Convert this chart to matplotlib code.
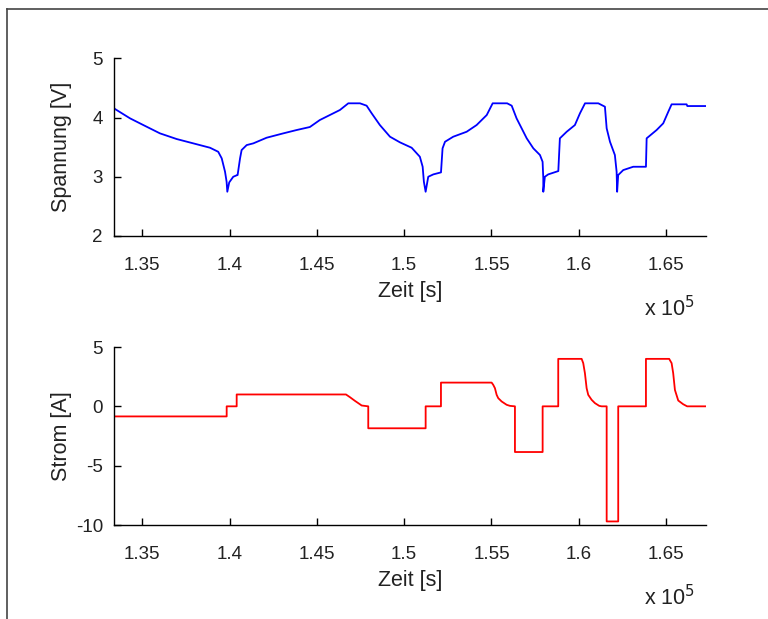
import numpy as np
import matplotlib
matplotlib.use("Agg")
import matplotlib.pyplot as plt
from matplotlib.lines import Line2D
from matplotlib.ticker import FuncFormatter, FixedLocator

plt.rcParams['font.family'] = ['Liberation Sans', 'DejaVu Sans']

# time axis unit: 1e5 seconds
T_UNIT = 1e5

# cell voltage [V] over time [1e5 s]
volt_time = [1.33380, 1.33436, 1.3430, 1.3506, 1.3601, 1.3697, 1.3792, 1.3888, 1.3935,
             1.3955, 1.3974, 1.3983, 1.3987, 1.3998, 1.4021, 1.4041, 1.4046, 1.4060,
             1.4069, 1.4098, 1.4136, 1.4212, 1.4308, 1.4384, 1.4460, 1.4517, 1.4632,
             1.4680, 1.4747, 1.4785, 1.4814, 1.4861, 1.4919, 1.4976, 1.5043, 1.5090,
             1.5106, 1.5113, 1.5123, 1.5138, 1.5167, 1.5211, 1.5220, 1.5234, 1.5281,
             1.5358, 1.5415, 1.5473, 1.5507, 1.5590, 1.5616, 1.5644, 1.5673, 1.5702,
             1.5740, 1.5778, 1.5793, 1.5797, 1.5797, 1.5806, 1.5825, 1.5883, 1.5892,
             1.5931, 1.5978, 1.6007, 1.6036, 1.6112, 1.6150, 1.6160, 1.6179, 1.6207,
             1.6217, 1.6220, 1.6226, 1.6255, 1.6312, 1.6385, 1.6389, 1.6446, 1.6484,
             1.6513, 1.6532, 1.6618, 1.6622, 1.6729]
volt_value = [4.16, 4.144, 3.986, 3.873, 3.733, 3.637, 3.564, 3.490, 3.422,
              3.311, 3.085, 2.916, 2.747, 2.905, 3.000, 3.025, 3.029, 3.311,
              3.451, 3.535, 3.564, 3.659, 3.733, 3.789, 3.840, 3.958, 4.127,
              4.240, 4.240, 4.200, 4.071, 3.873, 3.676, 3.581, 3.490, 3.338,
              3.169, 2.916, 2.747, 3.000, 3.040, 3.074, 3.480, 3.591, 3.676,
              3.760, 3.873, 4.042, 4.240, 4.240, 4.200, 3.986, 3.818, 3.649,
              3.480, 3.367, 3.253, 2.973, 2.747, 3.000, 3.040, 3.096, 3.649,
              3.760, 3.873, 4.071, 4.240, 4.240, 4.183, 3.818, 3.591, 3.367,
              3.085, 2.747, 3.029, 3.113, 3.169, 3.169, 3.649, 3.789, 3.902,
              4.098, 4.223, 4.223, 4.194, 4.194]

# cell current [A] over time [1e5 s]
curr_time = [1.33380, 1.39834, 1.39834, 1.40407, 1.40407, 1.46667, 1.46896, 1.47182,
             1.47371, 1.47566, 1.47944, 1.47944, 1.51231, 1.51231, 1.52108, 1.52108,
             1.55011, 1.55103, 1.55200, 1.55298, 1.55389, 1.55584, 1.55870, 1.56060,
             1.56346, 1.56346, 1.57932, 1.57932, 1.58826, 1.58826, 1.60166, 1.60258,
             1.60354, 1.60452, 1.60544, 1.60738, 1.60928, 1.61174, 1.61311, 1.61600,
             1.61600, 1.62262, 1.62262, 1.63850, 1.63850, 1.65180, 1.65320, 1.65410,
             1.65510, 1.65700, 1.65980, 1.66210, 1.67290]
curr_value = [-0.85, -0.85, 0.0, 0.0, 1.0, 1.0, 0.77, 0.46,
              0.27, 0.07, 0.0, -1.85, -1.85, 0.0, 0.0, 2.0,
              2.0, 1.81, 1.53, 0.97, 0.69, 0.41, 0.13, 0.04,
              0.0, -3.85, -3.85, 0.0, 0.0, 4.0, 4.0, 3.64,
              2.80, 1.53, 0.97, 0.55, 0.27, 0.04, 0.0, 0.0,
              -9.7, -9.7, 0.0, 0.0, 4.0, 4.0, 3.64, 2.80,
              1.38, 0.49, 0.18, 0.0, 0.0]

x_ticks = [1.35, 1.40, 1.45, 1.50, 1.55, 1.60, 1.65]
x_range = (1.33380, 1.67290)
volt_ticks = [2, 3, 4, 5]
curr_ticks = [-10, -5, 0, 5]

fig = plt.figure(figsize=(7.68, 6.19), dpi=100)
W, H = 768, 619


def px_axes(left, top, right, bottom):
    return fig.add_axes([left / W, 1 - bottom / H, (right - left) / W, (bottom - top) / H])


TICK_FS = 13.5
LABEL_FS = 15.5
TEXT_C = "#222222"


def style(ax, yticks, ylabel):
    ax.set_xlim(x_range[0] * T_UNIT, x_range[1] * T_UNIT)
    ax.set_ylim(yticks[0], yticks[-1])
    ax.xaxis.set_major_locator(FixedLocator([v * T_UNIT for v in x_ticks]))
    ax.xaxis.set_major_formatter(FuncFormatter(lambda v, p: f"{v / T_UNIT:g}"))
    ax.set_yticks(yticks)
    ax.set_yticklabels([f"{v:g}" for v in yticks])
    for s in ("top", "right"):
        ax.spines[s].set_visible(False)
    for s in ("left", "bottom"):
        ax.spines[s].set_linewidth(1.0)
        ax.spines[s].set_color("black")
    ax.tick_params(direction="in", length=5, width=1.0, labelsize=TICK_FS,
                   colors="black", labelcolor=TEXT_C)
    ax.tick_params(axis="x", pad=15)
    ax.tick_params(axis="y", pad=8)
    ax.set_xlabel("Zeit [s]", fontsize=LABEL_FS, labelpad=5, color=TEXT_C)
    ax.set_ylabel(ylabel, fontsize=LABEL_FS, color=TEXT_C)
    ax.yaxis.set_label_coords(-0.071, 0.5)
    ax.text(0.895, -0.45, r"x 10$^{5}$", transform=ax.transAxes, ha="left",
            va="baseline", fontsize=LABEL_FS, color=TEXT_C)


ax1 = px_axes(114, 58.3, 706, 236)
ax1.plot(np.array(volt_time) * T_UNIT, volt_value, color="#0000ff", lw=1.3)
style(ax1, volt_ticks, "Spannung [V]")

ax2 = px_axes(114, 347, 706, 525)
ax2.plot(np.array(curr_time) * T_UNIT, curr_value, color="#ff0000", lw=1.3)
style(ax2, curr_ticks, "Strom [A]")

# panel frame on the top and left edges
fig.add_artist(Line2D([7 / W, 1.0], [1 - 9 / H, 1 - 9 / H], transform=fig.transFigure,
                      color="#444444", lw=1.2))
fig.add_artist(Line2D([7 / W, 7 / W], [0.0, 1 - 9 / H], transform=fig.transFigure,
                      color="#444444", lw=1.2))

fig.savefig("out.png", dpi=100, facecolor="white")
